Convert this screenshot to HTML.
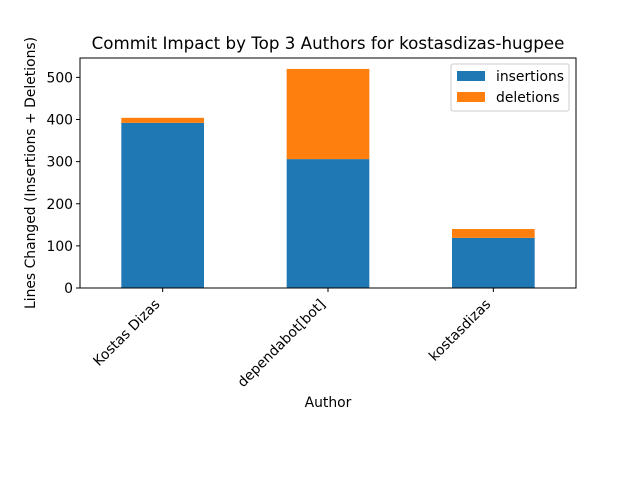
<!DOCTYPE html>
<html><head><meta charset="utf-8"><style>
body{margin:0;background:#fff;}
svg{font-family:"DejaVu Sans","Liberation Sans",sans-serif;}
</style></head><body>
<svg id="chart" width="640" height="480">
<rect width="640" height="480" fill="#fff"/>
<text x="328" y="49" text-anchor="middle" font-size="16.7">Commit Impact by Top 3 Authors for kostasdizas-hugpee</text>
<g id="bars"></g><g id="axes"></g>
<text x="328" y="407" text-anchor="middle" font-size="13.9">Author</text>
<text transform="translate(35,173) rotate(-90)" text-anchor="middle" font-size="13.9">Lines Changed (Insertions + Deletions)</text>
<g>
<rect x="451" y="64" width="118" height="47" fill="#fff" stroke="#ccc" rx="2"/>
<rect x="457" y="71" width="28" height="10" fill="#1f77b4"/>
<text x="496" y="81" font-size="13.9">insertions</text>
<rect x="457" y="92" width="28" height="10" fill="#ff7f0e"/>
<text x="496" y="102" font-size="13.9">deletions</text>
</g>
</svg>
<script>
const categories=["Kostas Dizas","dependabot[bot]","kostasdizas"];
const insertions=[392,306,119];
const deletions=[12,214,21];
const yTicks=[0,100,200,300,400,500];
const L=80,R=576,T=58,B=288;
const totals=insertions.map((v,i)=>v+deletions[i]);
const yMax=Math.max(...totals)*1.05;
const y=v=>B-(v/yMax)*(B-T);
const step=(R-L)/categories.length;
const x=i=>L+step*(i+0.5);
const NS="http://www.w3.org/2000/svg";
const bars=document.getElementById('bars'),axes=document.getElementById('axes');
function mk(tag,attrs,parent){const e=document.createElementNS(NS,tag);for(const k in attrs)e.setAttribute(k,attrs[k]);parent.appendChild(e);return e;}
categories.forEach((c,i)=>{
 const w=step*0.5;
 const r1=mk('rect',{x:x(i)-w/2,y:y(insertions[i]),width:w,height:B-y(insertions[i]),fill:'#1f77b4'},bars);
 
 
 const r2=mk('rect',{x:x(i)-w/2,y:y(totals[i]),width:w,height:y(insertions[i])-y(totals[i]),fill:'#ff7f0e'},bars);
 
 
 mk('line',{x1:x(i),x2:x(i),y1:B,y2:B+4,stroke:'#000'},axes);
 const t=mk('text',{transform:`translate(${x(i)-2},${B+17}) rotate(-45)`,'text-anchor':'end','font-size':13.9},axes);
 t.textContent=c;
 
 
});
yTicks.forEach(v=>{
 mk('line',{x1:L-4,x2:L,y1:y(v),y2:y(v),stroke:'#000'},axes);
 const t=mk('text',{x:L-7,y:y(v)+5,'text-anchor':'end','font-size':13.9},axes);
 t.textContent=v;
 
 
});
const f=mk('rect',{x:L,y:T,width:R-L,height:B-T,fill:'none',stroke:'#000','stroke-width':1},axes);


</script>
</body></html>
